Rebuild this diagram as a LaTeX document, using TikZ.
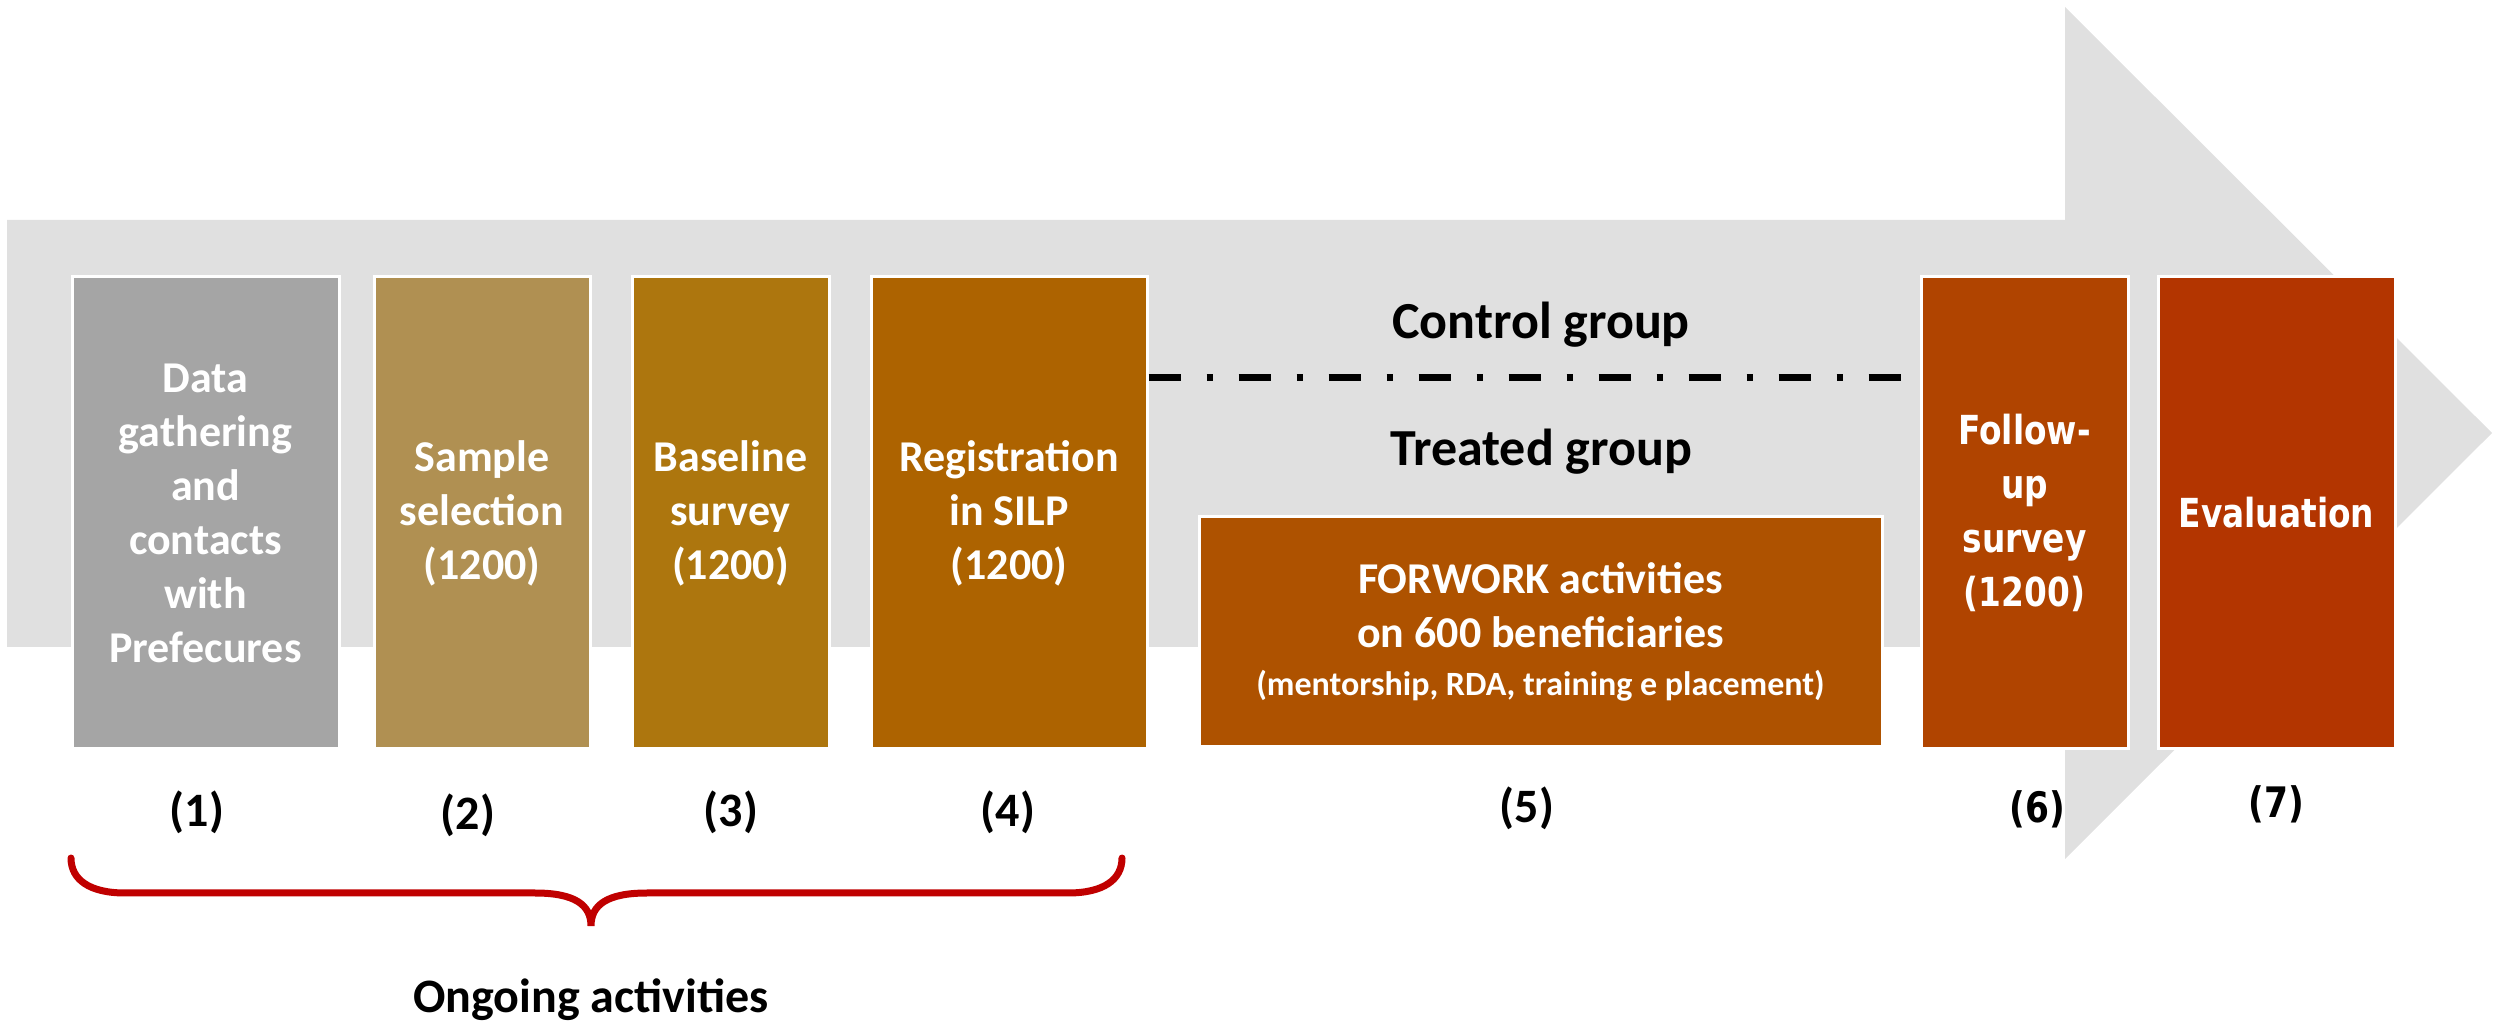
\documentclass[tikz,border=0pt]{standalone}
\usepackage{fontspec}
\setmainfont{Carlito}
\newfontfamily\tahfont[FakeStretch=0.82]{DejaVu Sans}
\definecolor{arrowgray}{HTML}{E0E0E0}
\definecolor{boxa}{HTML}{A5A5A5}
\definecolor{boxb}{HTML}{B09052}
\definecolor{boxc}{HTML}{AD760E}
\definecolor{boxd}{HTML}{AD6300}
\definecolor{boxe}{HTML}{AE5200}
\definecolor{boxf}{HTML}{B04400}
\definecolor{boxg}{HTML}{B33500}
\definecolor{bracered}{HTML}{C00000}
\begin{document}
\begin{tikzpicture}[line join=miter,
  stepbox/.style={draw=white,line width=1.5bp,inner sep=0pt,text=white,align=center,
    minimum height=236bp,font=\fontsize{22bp}{27bp}\selectfont\bfseries},
  widebox/.style={stepbox,font=\tahfont\fontsize{20bp}{27bp}\selectfont\bfseries},
  numlabel/.style={inner sep=0pt,font=\fontsize{24bp}{28bp}\selectfont\bfseries},
  widelabel/.style={inner sep=0pt,font=\tahfont\fontsize{21bp}{26bp}\selectfont\bfseries},
  grouplabel/.style={inner sep=0pt,font=\fontsize{26bp}{30bp}\selectfont\bfseries},
]
\useasboundingbox (0bp,0bp) rectangle (1248bp,512bp);
  % Background arrow
  \fill [arrowgray] (3.5bp,402bp) -- (1032.5bp,402bp) -- (1032.5bp,508.5bp) -- (1246bp,295.5bp)
    -- (1032.5bp,82.5bp) -- (1032.5bp,188.5bp) -- (3.5bp,188.5bp) -- cycle;
  % Node: data
  \node [stepbox,fill=boxa,minimum width=133.5bp] (data) at (102.75bp,255.5bp) {Data\\gathering\\and\\contacts\\with\\Prefecures};
  % Node: sample
  \node [stepbox,fill=boxb,minimum width=108bp] (sample) at (241bp,255.5bp) {Sample\\selection\\(1200)};
  % Node: base
  \node [stepbox,fill=boxc,minimum width=98.5bp] (base) at (365.25bp,255.5bp) {Baseline\\survey\\(1200)};
  % Node: reg
  \node [stepbox,fill=boxd,minimum width=138bp] (reg) at (504.5bp,255.5bp) {Registration\\in SILP\\(1200)};
  % Node: forwork
  \node [stepbox,fill=boxe,minimum width=341.5bp,minimum height=115bp] (forwork) at (770.25bp,196bp)
    {FORWORK activities\\on 600 beneficiaries\\[-3bp]{\fontsize{17bp}{20bp}\selectfont(mentorship, RDA, training e placement)}};
  % Node: follow
  \node [widebox,fill=boxf,minimum width=103.5bp] (follow) at (1012.25bp,255.5bp) {Follow-\\up\\survey\\(1200)};
  % Node: eval
  \node [widebox,fill=boxg,minimum width=118.5bp] (eval) at (1138.25bp,255.5bp) {Evaluation};
  % Groups
  \node [grouplabel] (ctrl) at (770.5bp,349.5bp) {Control group};
  \node [grouplabel] (treat) at (770.5bp,286bp) {Treated group};
  \coordinate (split) at (0bp,323bp);
  % Edge: reg -> follow
  \draw [line width=3.5bp,dash pattern=on 16bp off 13bp on 3bp off 13bp] (reg.east |- split) -- (follow.west |- split);
  % Step numbers
  \node [numlabel] (n1) at (98.5bp,106bp) {(1)};
  \node [numlabel] (n2) at (234bp,104.5bp) {(2)};
  \node [numlabel] (n3) at (365.5bp,106bp) {(3)};
  \node [numlabel] (n4) at (504bp,106bp) {(4)};
  \node [numlabel] (n5) at (763.5bp,108bp) {(5)};
  \node [widelabel] (n6) at (1018.5bp,107.5bp) {(6)};
  \node [widelabel] (n7) at (1138bp,110bp) {(7)};
  % Brace
  \draw [bracered,line width=3.5bp,line cap=round] (35.5bp,83bp) .. controls (35.5bp,72bp) and (45bp,65.5bp) .. (62.5bp,65.5bp)
    -- (267.5bp,65.5bp) .. controls (287.5bp,65.5bp) and (295.5bp,59.5bp) .. (295.5bp,49bp)
    .. controls (295.5bp,59.5bp) and (303.5bp,65.5bp) .. (323.5bp,65.5bp)
    -- (534bp,65.5bp) .. controls (551.5bp,65.5bp) and (561bp,72bp) .. (561bp,83bp);
  \node [inner sep=0pt,font=\fontsize{24bp}{28bp}\selectfont\bfseries] (ongoing) at (295.5bp,12bp) {Ongoing activities};
\end{tikzpicture}
\end{document}
